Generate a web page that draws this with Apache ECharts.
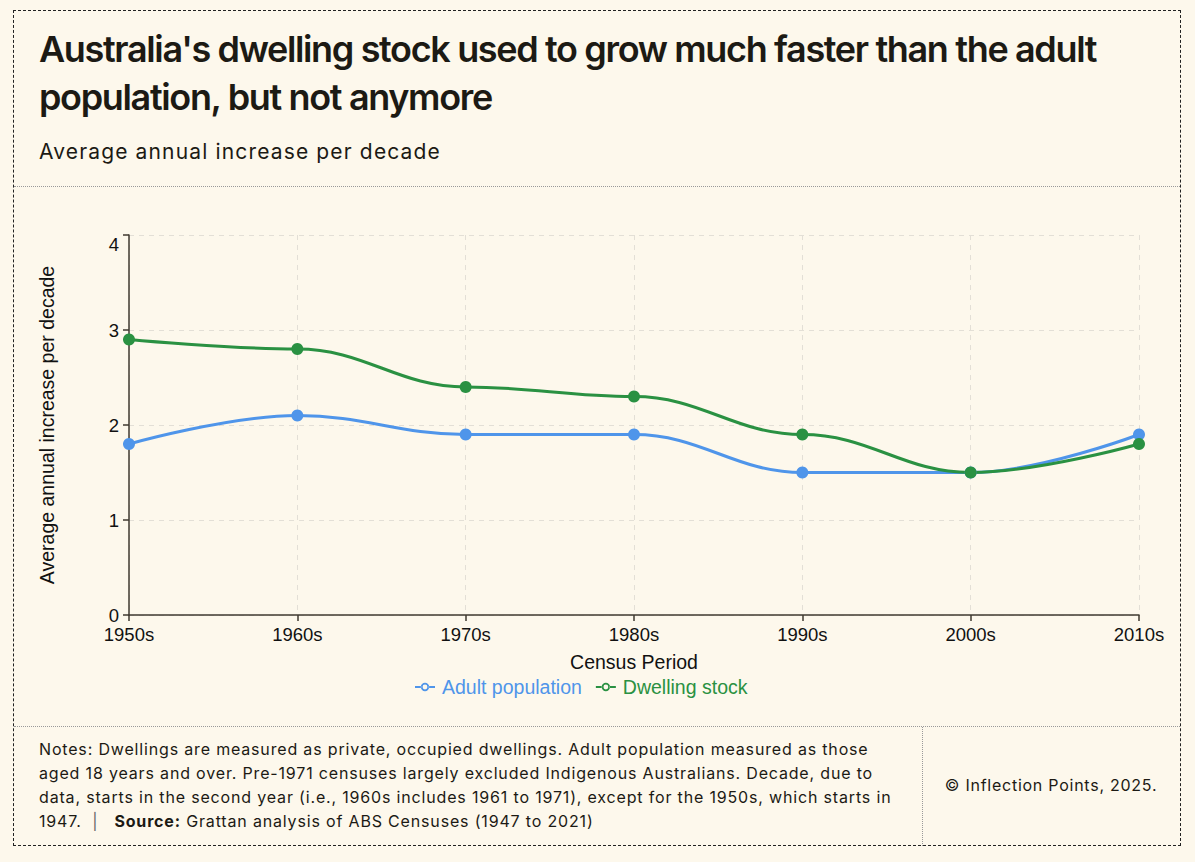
<!DOCTYPE html>
<html>
<head>
<meta charset="utf-8">
<script src="https://cdn.jsdelivr.net/npm/echarts@6/dist/echarts.min.js"></script>
<style>
  html, body { margin: 0; padding: 0; background: #fdf8ec; width: 1195px; height: 862px; overflow: hidden; }
  #frame { position: absolute; left: 13px; top: 10px; width: 1166px; height: 834px; border: 1.5px dashed #222; box-sizing: content-box; }
  #header { position: absolute; left: 0; top: 0; width: 1166px; height: 175px; border-bottom: 1px dotted #999; }
  #title { position: absolute; left: 25px; top: 14px; width: 1130px; font-family: "Inter", "Lato", sans-serif; font-weight: 600; font-size: 36px; line-height: 48px; letter-spacing: -1.35px; color: #1c1a14; white-space: nowrap; }
  #subtitle { position: absolute; left: 25px; top: 128px; font-family: "Inter", "Lato", sans-serif; font-size: 21px; letter-spacing: 1.15px; color: #1c1a14; white-space: nowrap; }
  #chart { position: absolute; left: 0; top: 176px; width: 1166px; height: 540px; }
  #footer { position: absolute; left: 0; top: 715px; width: 1166px; height: 119px; border-top: 1px dotted #999; }
  #notes { position: absolute; left: 25px; top: 10px; width: 880px; font-family: "Inter", "Lato", sans-serif; font-size: 16px; line-height: 24px; letter-spacing: 0.83px; color: #1c1a14; white-space: nowrap; }
  #notes .sep { color: #666; }
  #divider { position: absolute; left: 908px; top: 0; height: 119px; border-left: 1px dotted #999; }
  #copy { position: absolute; left: 908px; width: 258px; top: 48px; text-align: center; font-family: "Inter", "Lato", sans-serif; font-size: 16px; letter-spacing: 0.75px; color: #1c1a14; white-space: nowrap; }
</style>
</head>
<body>
<div id="frame">
  <div id="header">
    <div id="title">Australia's dwelling stock used to grow much faster than the adult<br>population, but not anymore</div>
    <div id="subtitle">Average annual increase per decade</div>
  </div>
  <div id="chart"></div>
  <div id="footer">
    <div id="notes">Notes: Dwellings are measured as private, occupied dwellings. Adult population measured as those<br>aged 18 years and over. Pre-1971 censuses largely excluded Indigenous Australians. Decade, due to<br>data, starts in the second year (i.e., 1960s includes 1961 to 1971), except for the 1950s, which starts in<br>1947. &nbsp;<span class="sep">|</span> &nbsp; <b>Source:</b> Grattan analysis of ABS Censuses (1947 to 2021)</div>
    <div id="divider"></div>
    <div id="copy">© Inflection Points, 2025.</div>
  </div>
</div>
<script>
const categories = ['1950s', '1960s', '1970s', '1980s', '1990s', '2000s', '2010s'];
const adultPopulation = [1.8, 2.1, 1.9, 1.9, 1.5, 1.5, 1.9];
const dwellingStock = [2.9, 2.8, 2.4, 2.3, 1.9, 1.5, 1.8];
const yTicks = [0, 1, 2, 3, 4];

const blue = '#4f95ea';
const green = '#2a9142';
const bg = '#fdf8ec';
const axisColor = '#3f3a30';
const gridColor = '#e3dfd6';

// legend icon: short line with a hollow ring in the middle
const legendIcon = 'path://M0 4.1H6.2V5.9H0Z M13.8 4.1H20V5.9H13.8Z ' +
  'M5.8 5A4.2 4.2 0 1 0 14.2 5A4.2 4.2 0 1 0 5.8 5Z ' +
  'M7.6 5A2.4 2.4 0 1 1 12.4 5A2.4 2.4 0 1 1 7.6 5Z';

const chart = echarts.init(document.getElementById('chart'), null, { renderer: 'svg' });
chart.setOption({
  backgroundColor: 'transparent',
  animation: false,
  textStyle: { fontFamily: '"Liberation Sans", Arial, sans-serif' },
  grid: { left: 115, right: 41, top: 48, bottom: 112 },
  legend: {
    bottom: 25,
    left: 396,
    itemWidth: 20,
    itemHeight: 10,
    itemGap: 14,
    icon: legendIcon,
    textStyle: { fontSize: 19.5, fontFamily: '"Liberation Sans", Arial, sans-serif', padding: [0, 0, 0, 2] },
    data: [
      { name: 'Adult population', textStyle: { color: blue } },
      { name: 'Dwelling stock', textStyle: { color: green } }
    ]
  },
  xAxis: {
    type: 'category',
    data: categories,
    boundaryGap: false,
    name: 'Census Period',
    nameLocation: 'middle',
    nameGap: 37,
    nameTextStyle: { fontSize: 19.5, color: '#111' },
    axisLine: { lineStyle: { color: axisColor, width: 1.5 } },
    axisTick: { show: true, length: 6, lineStyle: { color: axisColor, width: 1.5 } },
    axisLabel: { fontSize: 18.5, lineHeight: 18, color: '#111', margin: 10 },
    splitLine: { show: true, lineStyle: { color: gridColor, type: [5, 5], width: 1 } }
  },
  yAxis: {
    type: 'value',
    min: yTicks[0],
    max: yTicks[yTicks.length - 1],
    interval: 1,
    name: 'Average annual increase per decade',
    nameLocation: 'middle',
    nameGap: 72,
    nameTextStyle: { fontSize: 19.5, color: '#111' },
    axisLine: { show: true, lineStyle: { color: axisColor, width: 1.5 } },
    axisTick: { show: true, length: 6, lineStyle: { color: axisColor, width: 1.5 } },
    axisLabel: { fontSize: 18.5, lineHeight: 18, color: '#111', margin: 10, verticalAlignMaxLabel: 'top' },
    splitLine: { show: true, lineStyle: { color: gridColor, type: [5, 5], width: 1 } }
  },
  series: [
    {
      name: 'Adult population',
      type: 'line',
      data: adultPopulation,
      smooth: 0.4,
      smoothMonotone: 'x',
      symbol: 'circle',
      symbolSize: 12,
      color: blue,
      lineStyle: { width: 3, color: blue },
      itemStyle: { color: blue }
    },
    {
      name: 'Dwelling stock',
      type: 'line',
      data: dwellingStock,
      smooth: 0.4,
      smoothMonotone: 'x',
      symbol: 'circle',
      symbolSize: 12,
      color: green,
      lineStyle: { width: 3, color: green },
      itemStyle: { color: green }
    }
  ]
});
</script>
</body>
</html>
